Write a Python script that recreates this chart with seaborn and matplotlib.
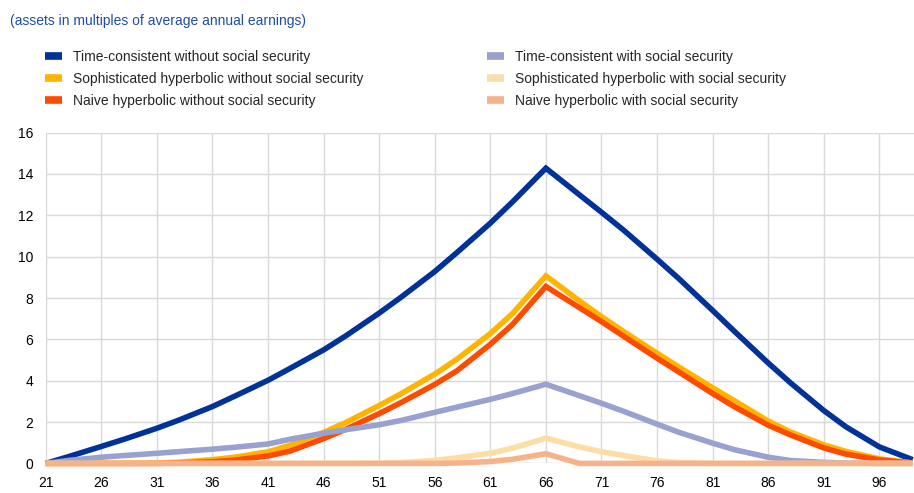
import matplotlib

matplotlib.use("Agg")
import matplotlib.pyplot as plt
from matplotlib.lines import Line2D
import seaborn as sns

# --- Data (assets in multiples of average annual earnings) ---
ages = [21, 23, 26, 28, 31, 33, 36, 38, 41, 43, 46, 48, 51, 53, 56, 58,
        61, 63, 66, 69, 71, 73, 76, 78, 81, 83, 86, 88, 91, 93, 96, 99]

tc_without = [0, 0.32, 0.82, 1.16, 1.70, 2.10, 2.75, 3.25, 4.02, 4.60, 5.49, 6.17,
              7.27, 8.05, 9.28, 10.20, 11.62, 12.65, 14.28, 13.00, 12.15, 11.28,
              9.88, 8.92, 7.40, 6.37, 4.86, 3.90, 2.56, 1.77, 0.80, 0.18]
soph_without = [0, 0, 0, 0, 0.02, 0.06, 0.18, 0.30, 0.56, 0.88, 1.50, 1.98,
                2.80, 3.38, 4.32, 5.04, 6.28, 7.25, 9.07, 7.87, 7.10, 6.38,
                5.33, 4.65, 3.66, 3.02, 2.05, 1.52, 0.90, 0.58, 0.22, 0.02]
naive_without = [0, 0, 0, 0, 0, 0.02, 0.08, 0.16, 0.36, 0.60, 1.20, 1.65,
                 2.41, 2.95, 3.82, 4.48, 5.76, 6.72, 8.56, 7.54, 6.86, 6.15,
                 5.09, 4.41, 3.38, 2.73, 1.85, 1.38, 0.75, 0.45, 0.17, 0.02]
tc_with = [0, 0.14, 0.30, 0.38, 0.49, 0.57, 0.69, 0.78, 0.94, 1.17, 1.46, 1.63,
           1.87, 2.08, 2.47, 2.72, 3.10, 3.38, 3.83, 3.28, 2.91, 2.52,
           1.90, 1.50, 0.98, 0.66, 0.30, 0.14, 0.05, 0.02, 0, 0]
soph_with = [0, 0, 0, 0, 0, 0, 0, 0, 0, 0, 0, 0,
             0.01, 0.04, 0.15, 0.27, 0.49, 0.74, 1.22, 0.80, 0.57, 0.38,
             0.12, 0.04, 0, 0, 0, 0, 0, 0, 0, 0]
naive_with = [0, 0, 0, 0, 0, 0, 0, 0, 0, 0, 0, 0,
              0, 0, 0, 0.02, 0.09, 0.20, 0.47, 0, 0, 0,
              0, 0, 0, 0, 0, 0, 0, 0, 0, 0]

labels = [
    "Time-consistent without social security",
    "Sophisticated hyperbolic without social security",
    "Naive hyperbolic without social security",
    "Time-consistent with social security",
    "Sophisticated hyperbolic with social security",
    "Naive hyperbolic with social security",
]
series = [tc_without, soph_without, naive_without, tc_with, soph_with, naive_with]
colors = ["#003299", "#FFB400", "#FF4B00", "#98A1D0", "#FDDDA6", "#F6B38A"]

x_ticks = list(range(21, 97, 5))
y_ticks = list(range(0, 17, 2))

# --- Styling ---
sns.set_theme(style="whitegrid")
plt.rcParams["font.family"] = ["Liberation Sans", "DejaVu Sans"]

fig, ax = plt.subplots(figsize=(9.14, 4.93), dpi=100)
fig.subplots_adjust(left=0.05, right=1.0, top=0.731, bottom=0.06)

for vals, col in zip(series, colors):
    sns.lineplot(x=ages, y=vals, color=col, linewidth=4.0, ax=ax,
                 solid_joinstyle="miter", solid_capstyle="butt", clip_on=False)

ax.set_xlim(21, 99.12)
ax.set_ylim(0, 16)
ax.set_xticks(x_ticks)
ax.set_yticks(y_ticks)
ax.tick_params(axis="both", length=0, labelsize=10, colors="#000000")
ax.tick_params(axis="x", pad=9)
ax.tick_params(axis="y", pad=9)
ax.grid(True, color="#D9D9D9", linewidth=1.0)
for sp in ax.spines.values():
    sp.set_visible(False)
ax.set_xlabel("")
ax.set_ylabel("")

# Title line above legend
fig.text(10 / 914, 1 - 21 / 493, "(assets in multiples of average annual earnings)",
         color="#1F4FA3", fontsize=10, va="center", ha="left")

handles = [Line2D([0], [0], color=c, linewidth=5.5, solid_capstyle="butt") for c in colors]
fig.legend(handles, labels, ncol=2, loc="upper left",
           bbox_to_anchor=(45 / 914, 1 - 50 / 493), frameon=False,
           fontsize=10, handlelength=1.2, handletextpad=0.8,
           columnspacing=8.95, labelspacing=0.58, borderpad=0, borderaxespad=0)

plt.savefig("out.png", dpi=100)
